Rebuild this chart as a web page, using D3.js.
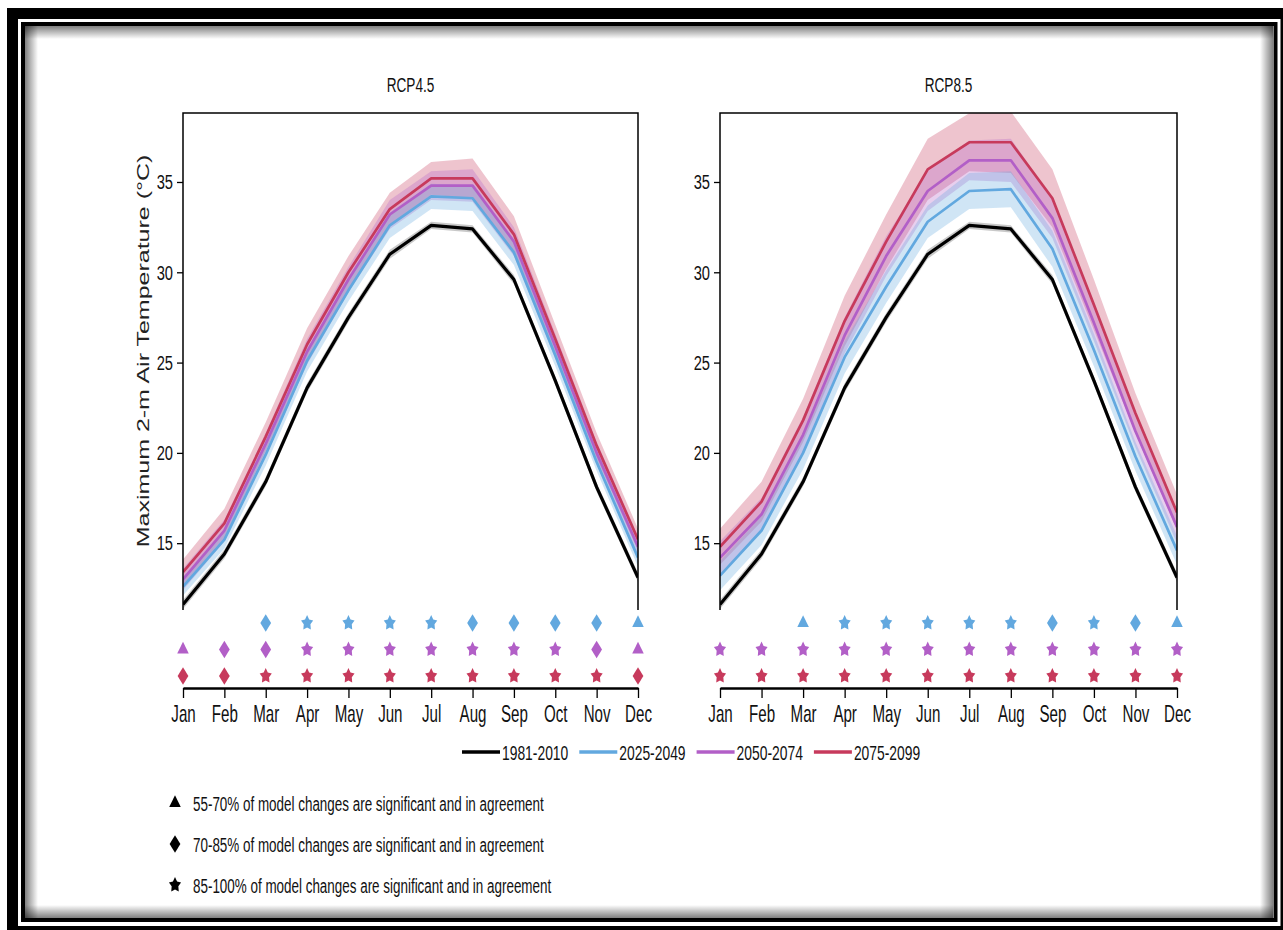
<!DOCTYPE html>
<html>
<head>
<meta charset="utf-8">
<script src="https://cdn.jsdelivr.net/npm/d3@7"></script>
<style>
body { margin: 0; background: #fff; }
text { font-family: "Liberation Sans", Arial, Helvetica, sans-serif; fill: #111; }
</style>
</head>
<body>
<svg id="chart"></svg>
<script>
const months = ['Jan', 'Feb', 'Mar', 'Apr', 'May', 'Jun', 'Jul', 'Aug', 'Sep', 'Oct', 'Nov', 'Dec'];
const periods = ['1981-2010', '2025-2049', '2050-2074', '2075-2099'];
const colors = ['#000000', '#62a8df', '#b25fc7', '#c73a5c'];
const yTicks = [15, 20, 25, 30, 35];

// 1981-2010 (same in both panels)
const hist = [11.6, 14.4, 18.4, 23.6, 27.5, 31.0, 32.6, 32.4, 29.6, 24.0, 18.1, 13.1];
const histSpread = [0.25, 0.25, 0.25, 0.25, 0.25, 0.25, 0.2, 0.2, 0.25, 0.25, 0.25, 0.25];

// RCP4.5
const blue45 = [12.6, 15.2, 19.9, 25.1, 29.0, 32.6, 34.2, 34.1, 31.1, 25.4, 19.5, 14.2];
const purple45 = [13.0, 15.7, 20.5, 25.6, 29.6, 33.2, 34.8, 34.8, 31.7, 25.9, 20.0, 14.8];
const red45 = [13.4, 16.1, 20.9, 26.0, 30.0, 33.5, 35.2, 35.2, 32.1, 26.3, 20.4, 15.2];
const blue45Spread = [0.5, 0.5, 0.6, 0.6, 0.6, 0.7, 0.7, 0.7, 0.7, 0.6, 0.5, 0.5];
const purple45Spread = [0.6, 0.6, 0.6, 0.7, 0.7, 0.8, 0.8, 0.9, 0.8, 0.7, 0.6, 0.6];
const red45Spread = [0.7, 0.8, 0.8, 0.9, 0.9, 0.9, 0.9, 1.1, 1.0, 0.8, 0.7, 0.6];

// RCP8.5
const blue85 = [13.2, 15.7, 20.0, 25.3, 29.2, 32.8, 34.5, 34.6, 31.3, 25.7, 19.8, 14.6];
const purple85 = [14.2, 16.6, 21.0, 26.5, 30.9, 34.5, 36.2, 36.2, 33.0, 27.2, 21.2, 15.9];
const red85 = [14.8, 17.3, 21.8, 27.3, 31.7, 35.7, 37.2, 37.2, 34.1, 28.2, 22.2, 16.7];
const blue85Spread = [0.8, 0.8, 0.9, 0.9, 0.9, 0.9, 1.0, 1.0, 1.0, 0.9, 0.8, 0.8];
const purple85Spread = [0.9, 0.9, 1.0, 1.0, 1.1, 1.1, 1.1, 1.2, 1.1, 1.0, 0.9, 0.9];
const red85Spread = [1.0, 1.1, 1.2, 1.4, 1.5, 1.7, 1.6, 1.7, 1.6, 1.4, 1.1, 1.0];

// agreement symbols: T = 55-70%, D = 70-85%, S = 85-100%
const sig45Blue = ['', '', 'D', 'S', 'S', 'S', 'S', 'D', 'D', 'D', 'D', 'T'];
const sig45Purple = ['T', 'D', 'D', 'S', 'S', 'S', 'S', 'S', 'S', 'S', 'D', 'T'];
const sig45Red = ['D', 'D', 'S', 'S', 'S', 'S', 'S', 'S', 'S', 'S', 'S', 'D'];
const sig85Blue = ['', '', 'T', 'S', 'S', 'S', 'S', 'S', 'D', 'S', 'D', 'T'];
const sig85Purple = ['S', 'S', 'S', 'S', 'S', 'S', 'S', 'S', 'S', 'S', 'S', 'S'];
const sig85Red = ['S', 'S', 'S', 'S', 'S', 'S', 'S', 'S', 'S', 'S', 'S', 'S'];

const sigCodes = ['T', 'D', 'S'];
const sigLabels = [
    '55-70% of model changes are significant and in agreement',
    '70-85% of model changes are significant and in agreement',
    '85-100% of model changes are significant and in agreement'
];

const width = 1283;
const height = 930;
const sq = 0.68; // horizontal squeeze of the original figure

const svg = d3.select('#chart')
    .attr('width', width)
    .attr('height', height);

// 枠
const defs = svg.append('defs');
const shades = [
    { id: 'shL', x1: 0, y1: 0, x2: 1, y2: 0 },
    { id: 'shR', x1: 1, y1: 0, x2: 0, y2: 0 },
    { id: 'shT', x1: 0, y1: 0, x2: 0, y2: 1 },
    { id: 'shB', x1: 0, y1: 1, x2: 0, y2: 0 }
];
shades.forEach(s => {
    const lg = defs.append('linearGradient').attr('id', s.id)
        .attr('x1', s.x1).attr('y1', s.y1).attr('x2', s.x2).attr('y2', s.y2);
    lg.append('stop').attr('offset', 0).attr('stop-color', '#000').attr('stop-opacity', 0.5);
    lg.append('stop').attr('offset', 1).attr('stop-color', '#000').attr('stop-opacity', 0);
});
svg.append('rect').attr('x', 25).attr('y', 26).attr('width', 13).attr('height', 892).attr('fill', 'url(#shL)');
svg.append('rect').attr('x', 1260).attr('y', 26).attr('width', 13).attr('height', 892).attr('fill', 'url(#shR)');
svg.append('rect').attr('x', 25).attr('y', 26).attr('width', 1248).attr('height', 13).attr('fill', 'url(#shT)');
svg.append('rect').attr('x', 25).attr('y', 905).attr('width', 1248).attr('height', 13).attr('fill', 'url(#shB)');
svg.append('rect')
    .attr('x', 12.5).attr('y', 13.5).attr('width', 1273.5).attr('height', 918)
    .attr('fill', 'none').attr('stroke', '#000').attr('stroke-width', 11);
svg.append('rect')
    .attr('x', 23).attr('y', 24).attr('width', 1252.5).attr('height', 896)
    .attr('fill', 'none').attr('stroke', '#000').attr('stroke-width', 4);

const plotTop = 113;
const plotBottom = 610;
const axisY0 = 688;

const y = d3.scaleLinear().domain([11.3, 38.82]).range([plotBottom, plotTop]);
const rowY = d3.scalePoint().domain(periods.slice(1)).range([623, 676]);

// 太めの星 (chunkier star than d3.symbolStar)
const fatStar = {
    draw(context, size) {
        const r = Math.sqrt(size / 2.2);
        const ri = r * 0.55;
        for (let i = 0; i < 10; i++) {
            const a = -Math.PI / 2 + i * Math.PI / 5;
            const rr = i % 2 ? ri : r;
            if (i === 0) context.moveTo(rr * Math.cos(a), rr * Math.sin(a));
            else context.lineTo(rr * Math.cos(a), rr * Math.sin(a));
        }
        context.closePath();
    }
};

const symbolPath = {
    T: d3.symbol(d3.symbolTriangle, 80)(),
    D: d3.symbol(d3.symbolDiamond, 100)(),
    S: d3.symbol(fatStar, 140)()
};
const symbolScale = { T: 'scale(0.85,1)', D: 'scale(1,0.95)', S: 'scale(0.8,1)' };

const panels = [
    {
        title: 'RCP4.5', x0: 183, x1: 638,
        lines: [hist, blue45, purple45, red45],
        spreads: [histSpread, blue45Spread, purple45Spread, red45Spread],
        sig: [sig45Blue, sig45Purple, sig45Red]
    },
    {
        title: 'RCP8.5', x0: 720, x1: 1177,
        lines: [hist, blue85, purple85, red85],
        spreads: [histSpread, blue85Spread, purple85Spread, red85Spread],
        sig: [sig85Blue, sig85Purple, sig85Red]
    }
];

panels.forEach((p, pi) => {
    const x = d3.scalePoint().domain(months).range([p.x0, p.x1]);
    const g = svg.append('g');

    defs.append('clipPath').attr('id', 'clip' + pi)
        .append('rect')
        .attr('x', p.x0).attr('y', plotTop)
        .attr('width', p.x1 - p.x0).attr('height', plotBottom - plotTop);

    const area = d3.area()
        .x(d => x(d.m))
        .y0(d => y(d.lo))
        .y1(d => y(d.hi));
    const line = d3.line()
        .x(d => x(d.m))
        .y(d => y(d.v));

    // 幅 (bands)
    [3, 2, 1, 0].forEach(k => {
        g.append('path')
            .datum(p.lines[k].map((v, i) => ({ m: months[i], lo: v - p.spreads[k][i], hi: v + p.spreads[k][i] })))
            .attr('d', area)
            .attr('fill', k ? colors[k] : '#777')
            .attr('fill-opacity', k ? 0.3 : 0.4)
            .attr('clip-path', 'url(#clip' + pi + ')');
    });

    // 線
    [0, 1, 2, 3].forEach(k => {
        g.append('path')
            .datum(p.lines[k].map((v, i) => ({ m: months[i], v: v })))
            .attr('d', line)
            .attr('fill', 'none')
            .attr('stroke', colors[k])
            .attr('stroke-width', k ? 2.7 : 3.2)
            .attr('stroke-linejoin', 'round')
            .attr('clip-path', 'url(#clip' + pi + ')');
    });

    // frame (top, left, right)
    g.append('path')
        .attr('d', 'M' + p.x0 + ',' + plotBottom + 'V' + plotTop + 'H' + p.x1 + 'V' + plotBottom)
        .attr('fill', 'none')
        .attr('stroke', '#000')
        .attr('stroke-width', 1.5);

    // y axis
    const gy = g.append('g')
        .attr('transform', 'translate(' + p.x0 + ',0)')
        .call(d3.axisLeft(y).tickValues(yTicks).tickSize(6).tickSizeOuter(0).tickFormat(d3.format('d')));
    gy.select('.domain').remove();
    gy.selectAll('.tick line').attr('stroke', '#000').attr('stroke-width', 1.3);
    gy.selectAll('.tick text')
        .attr('x', 0)
        .attr('transform', 'translate(-10,0) scale(0.7,1)')
        .attr('font-size', 21)
        .attr('font-family', null);

    // x axis
    const gx = g.append('g')
        .attr('transform', 'translate(0,' + axisY0 + ')')
        .call(d3.axisBottom(x).tickSize(10).tickSizeOuter(0).tickPadding(7));
    gx.select('.domain').attr('stroke', '#000').attr('stroke-width', 2.6);
    gx.selectAll('.tick line').attr('stroke', '#000').attr('stroke-width', 1.3);
    gx.selectAll('.tick text')
        .attr('transform', 'scale(0.63,1)')
        .attr('font-size', 24)
        .attr('font-family', null);

    // significance markers
    p.sig.forEach((row, r) => {
        g.append('g').selectAll('path')
            .data(row.map((c, i) => ({ c: c, m: months[i] })).filter(d => d.c))
            .join('path')
            .attr('d', d => symbolPath[d.c])
            .attr('transform', d => 'translate(' + x(d.m) + ',' + rowY(periods[r + 1]) + ') ' + symbolScale[d.c])
            .attr('fill', colors[r + 1]);
    });

    // title
    svg.append('text')
        .attr('transform', 'translate(' + (p.x0 + p.x1) / 2 + ',92) scale(' + sq + ',1)')
        .attr('text-anchor', 'middle')
        .attr('font-size', 20)
        .text(p.title);
});

// y label
svg.append('text')
    .attr('transform', 'translate(149,351) rotate(-90) scale(1,' + sq + ')')
    .attr('text-anchor', 'middle')
    .attr('font-size', 25)
    .style('fill', '#222')
    .text('Maximum 2-m Air Temperature (°C)');

// legend (periods)
const legend = svg.append('g').attr('transform', 'translate(462,752)');
periods.forEach((name, i) => {
    const lg = legend.append('g').attr('transform', 'translate(' + (i * 117.3) + ',0)');
    lg.append('line')
        .attr('x1', 0).attr('x2', 38)
        .attr('stroke', colors[i])
        .attr('stroke-width', 3.4);
    lg.append('text')
        .attr('transform', 'translate(40,0) scale(0.66,1)')
        .attr('dy', '0.36em')
        .attr('font-size', 21)
        .text(name);
});

// legend (agreement symbols)
const legend2 = svg.append('g').attr('transform', 'translate(175,803)');
sigCodes.forEach((c, i) => {
    const lg = legend2.append('g').attr('transform', 'translate(0,' + (i * 41) + ')');
    lg.append('path')
        .attr('d', symbolPath[c])
        .attr('transform', symbolScale[c])
        .attr('fill', '#000');
    lg.append('text')
        .attr('transform', 'translate(18,0) scale(0.64,1)')
        .attr('dy', '0.36em')
        .attr('font-size', 21)
        .text(sigLabels[i]);
});
</script>
</body>
</html>
